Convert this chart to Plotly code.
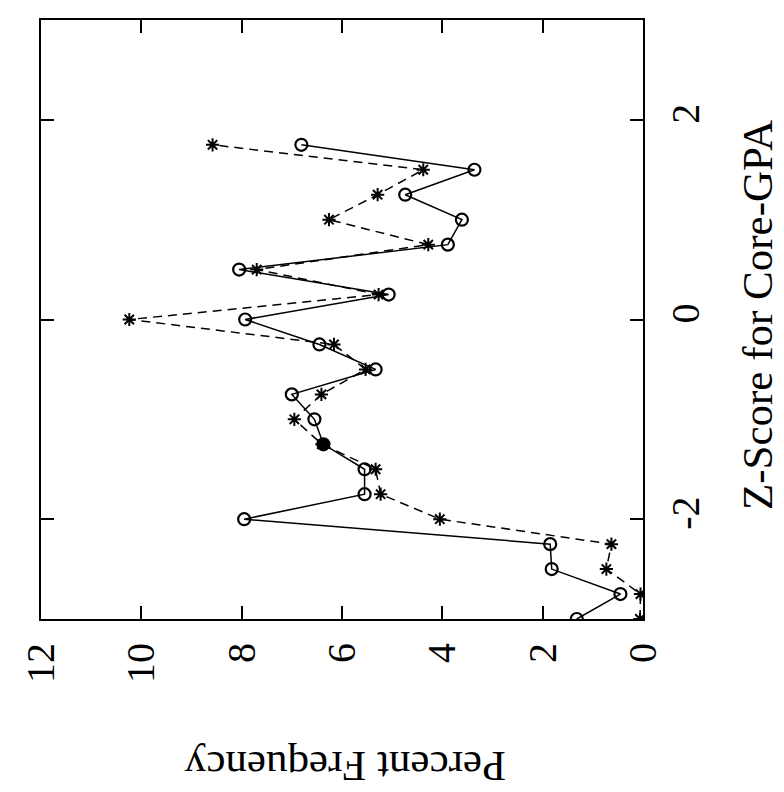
import plotly.graph_objects as go

# Z-score bins (vertical axis in the rotated picture)
z_score = [-3.0, -2.75, -2.5, -2.25, -2.0, -1.75, -1.5, -1.25, -1.0, -0.75,
           -0.5, -0.25, 0.0, 0.25, 0.5, 0.75, 1.0, 1.25, 1.5, 1.75]
# Percent frequency, solid line with open circles
pf_circles = [1.32, 0.45, 1.82, 1.85, 7.95, 5.55, 5.55, 6.37, 6.55, 7.0,
              5.33, 6.45, 7.93, 5.07, 8.05, 3.89, 3.61, 4.74, 3.36, 6.81]
# Percent frequency, dashed line with asterisks
pf_stars = [0.06, 0.05, 0.73, 0.63, 4.05, 5.23, 5.33, 6.40, 6.95, 6.41,
            5.53, 6.16, 10.24, 5.27, 7.70, 4.28, 6.26, 5.29, 4.38, 8.58]

pf_ticks = [0, 2, 4, 6, 8, 10, 12]
pf_labels = ["0", "2", "4", "6", "8", "10", "12"]
z_ticks = [-2, 0, 2]
z_labels = ["-2", "0", "2"]

FONT = "Liberation Serif, Times New Roman, serif"

circle_symbols = ["circle" if (z == -1.25) else "circle-open" for z in z_score]

fig = go.Figure()
fig.add_trace(go.Scatter(
    x=pf_stars, y=z_score, mode="lines+markers",
    line=dict(color="black", width=1.5, dash="9px,6px"),
    marker=dict(symbol="asterisk-open", size=11, color="black",
                line=dict(color="black", width=2)),
    showlegend=False))
fig.add_trace(go.Scatter(
    x=pf_circles, y=z_score, mode="lines+markers",
    line=dict(color="black", width=1.5),
    marker=dict(symbol=circle_symbols, size=12, color="black",
                line=dict(color="black", width=2.2)),
    showlegend=False))

axis_common = dict(showgrid=False, zeroline=False, showline=True, linecolor="black",
                   linewidth=2, mirror="ticks", ticks="inside", ticklen=13,
                   tickwidth=2, tickcolor="black", ticklabelstandoff=6,
                   tickfont=dict(family=FONT, size=40, color="black"))

fig.update_layout(
    width=784, height=792,
    margin=dict(l=27, r=149, t=10, b=181),
    paper_bgcolor="white", plot_bgcolor="white",
    xaxis=dict(range=[12, 0], tickvals=pf_ticks, ticktext=pf_labels,
               tickangle=-90, **axis_common),
    yaxis=dict(range=[-3, 3], tickvals=z_ticks, ticktext=z_labels, side="right",
               tickangle=-90, **axis_common),
    annotations=[
        dict(text="Z-Score for Core-GPA", xref="paper", yref="paper",
             x=1.19, y=0.508, xanchor="center", yanchor="middle",
             showarrow=False, textangle=-90,
             font=dict(family=FONT, size=43, color="black")),
        dict(text="Percent Frequency", xref="paper", yref="paper",
             x=0.505, y=-0.246, xanchor="center", yanchor="middle",
             showarrow=False, textangle=180,
             font=dict(family=FONT, size=43, color="black")),
    ],
)

fig.write_html("out.html")
